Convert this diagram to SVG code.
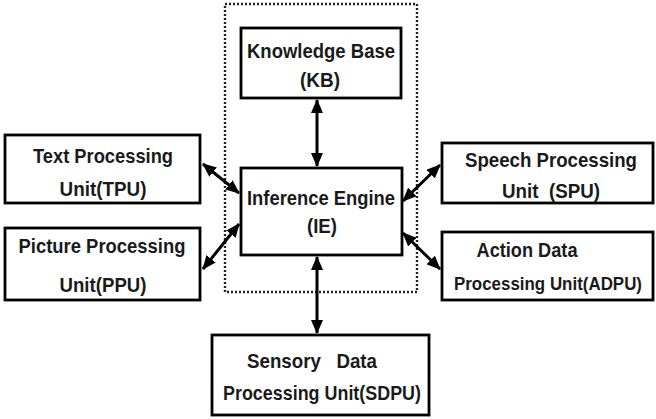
<svg xmlns="http://www.w3.org/2000/svg" width="656" height="419" viewBox="0 0 656 419">
<style>
.box{fill:#fff;stroke:#000;stroke-width:2.8}
.t{font-family:"Liberation Sans",Arial,sans-serif;font-weight:bold;font-size:20.5px;fill:#1a1a1a;text-anchor:middle}
.c{stroke:#000;stroke-width:3;fill:none;marker-start:url(#ah);marker-end:url(#ah)}
</style>
<defs>
<marker id="ah" markerUnits="userSpaceOnUse" markerWidth="14" markerHeight="12" refX="13" refY="6" orient="auto-start-reverse">
<path d="M0,0 L14,6 L0,12 Z" fill="#000"/>
</marker>
</defs>
<rect x="0" y="0" width="656" height="419" fill="#fff"/>
<rect id="boundary" x="225" y="4" width="192" height="288" fill="none" stroke="#222" stroke-width="2.4" stroke-dasharray="2,2"/>
<g id="connectors">
<line class="c" x1="317" y1="100" x2="317" y2="166"/>
<line class="c" x1="317" y1="257" x2="317" y2="333"/>
<line class="c" x1="203" y1="164" x2="239" y2="193"/>
<line class="c" x1="203" y1="269" x2="239" y2="224"/>
<line class="c" x1="403" y1="201" x2="440" y2="165"/>
<line class="c" x1="403" y1="233" x2="440" y2="269"/>
</g>
<g id="kb">
<rect class="box" x="241" y="28" width="160" height="70"/>
<text class="t" x="321" y="58" textLength="148" lengthAdjust="spacingAndGlyphs">Knowledge Base</text>
<text class="t" x="320" y="87" textLength="40" lengthAdjust="spacingAndGlyphs">(KB)</text>
</g>
<g id="ie">
<rect class="box" x="241" y="168" width="161" height="87"/>
<text class="t" x="321" y="205" textLength="148" lengthAdjust="spacingAndGlyphs">Inference Engine</text>
<text class="t" x="322" y="233" textLength="30" lengthAdjust="spacingAndGlyphs">(IE)</text>
</g>
<g id="tpu">
<rect class="box" x="5" y="135" width="195" height="68"/>
<text class="t" x="103" y="163" textLength="140" lengthAdjust="spacingAndGlyphs">Text Processing</text>
<text class="t" x="103" y="196" textLength="87" lengthAdjust="spacingAndGlyphs">Unit(TPU)</text>
</g>
<g id="ppu">
<rect class="box" x="5" y="228" width="195" height="72"/>
<text class="t" x="102" y="253" textLength="167" lengthAdjust="spacingAndGlyphs">Picture Processing</text>
<text class="t" x="103" y="292" textLength="87" lengthAdjust="spacingAndGlyphs">Unit(PPU)</text>
</g>
<g id="spu">
<rect class="box" x="442" y="143" width="211" height="60"/>
<text class="t" x="551" y="167" textLength="172" lengthAdjust="spacingAndGlyphs">Speech Processing</text>
<text class="t" x="551" y="198" textLength="98" lengthAdjust="spacingAndGlyphs" xml:space="preserve">Unit  (SPU)</text>
</g>
<g id="adpu">
<rect class="box" x="442" y="232" width="211" height="68"/>
<text class="t" x="527" y="257" textLength="101" lengthAdjust="spacingAndGlyphs">Action Data</text>
<text class="t" x="548" y="290" style="font-size:18px" textLength="188" lengthAdjust="spacingAndGlyphs">Processing Unit(ADPU)</text>
</g>
<g id="sdpu">
<rect class="box" x="212" y="335" width="217" height="80"/>
<text class="t" x="312" y="368" textLength="130" lengthAdjust="spacingAndGlyphs" xml:space="preserve">Sensory   Data</text>
<text class="t" x="322" y="400" textLength="198" lengthAdjust="spacingAndGlyphs">Processing Unit(SDPU)</text>
</g>
</svg>
